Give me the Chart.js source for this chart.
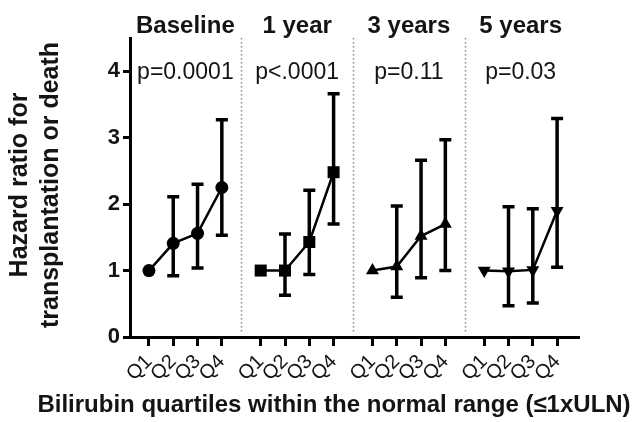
<!DOCTYPE html>
<html>
<head>
<meta charset="utf-8">
<script src="https://cdn.jsdelivr.net/npm/chart.js@4"></script>
<style>
  html, body { margin: 0; padding: 0; background: #fff; }
  #wrap { width: 641px; height: 422px; }
</style>
</head>
<body>
<div id="wrap"><canvas id="chart"></canvas></div>
<script>
// Data
const groups = ['Baseline', '1 year', '3 years', '5 years'];
const pValues = ['p=0.0001', 'p<.0001', 'p=0.11', 'p=0.03'];
const quartiles = ['Q1', 'Q2', 'Q3', 'Q4'];
const hazard = [
    [1, 1.41, 1.56, 2.25],
    [1, 1.00, 1.43, 2.48],
    [1, 1.06, 1.52, 1.70],
    [1, 0.99, 1.01, 1.90]
];
const lower = [
    [null, 0.92, 1.04, 1.53],
    [null, 0.63, 0.94, 1.70],
    [null, 0.60, 0.89, 1.00],
    [null, 0.47, 0.51, 1.05]
];
const upper = [
    [null, 2.11, 2.30, 3.27],
    [null, 1.55, 2.21, 3.66],
    [null, 1.97, 2.66, 2.97],
    [null, 1.96, 1.93, 3.29]
];
const yTicks = [0, 1, 2, 3, 4];

// layout helpers
const groupStride = 4.6;
const markers = ['circle', 'rect', 'triangle', 'triangle'];
const markerRot = [0, 0, 0, 180];
const markerSize = [6.5, 8.5, 7.5, 7.5];
const FONT = "'Liberation Sans', Arial, sans-serif";
const INK = '#141414';

const xOf = (g, q) => g * groupStride + q;

// 1. error bars with caps
const errorBars = {
    id: 'errorBars',
    beforeDatasetsDraw(chart) {
        const { ctx, scales: { x, y } } = chart;
        ctx.save();
        ctx.strokeStyle = '#000';
        ctx.lineWidth = 3.5;
        ctx.lineCap = 'butt';
        groups.forEach((g, gi) => {
            quartiles.forEach((q, qi) => {
                if (lower[gi][qi] == null) return;
                const px = x.getPixelForValue(xOf(gi, qi));
                const y1 = y.getPixelForValue(lower[gi][qi]);
                const y2 = y.getPixelForValue(upper[gi][qi]);
                ctx.beginPath();
                ctx.moveTo(px, y1); ctx.lineTo(px, y2);
                ctx.moveTo(px - 6, y1); ctx.lineTo(px + 6, y1);
                ctx.moveTo(px - 6, y2); ctx.lineTo(px + 6, y2);
                ctx.stroke();
            });
        });
        ctx.restore();
    }
};

// 2. dotted separators, panel titles, p-values, axis titles
const annotations = {
    id: 'annotations',
    beforeDatasetsDraw(chart) {
        const { ctx, chartArea, scales: { x, y } } = chart;
        ctx.save();
        ctx.strokeStyle = '#8a8a8a';
        ctx.lineWidth = 1.5;
        ctx.setLineDash([1.5, 2.5]);
        for (let gi = 0; gi < groups.length - 1; gi++) {
            const px = Math.round(x.getPixelForValue(xOf(gi, 3.8))) + 0.5;
            ctx.beginPath();
            ctx.moveTo(px, chartArea.top);
            ctx.lineTo(px, y.getPixelForValue(0) - 5);
            ctx.stroke();
        }
        ctx.restore();
    },
    afterDraw(chart) {
        const { ctx, scales: { x, y } } = chart;
        ctx.save();
        ctx.fillStyle = INK;
        ctx.textAlign = 'center';
        ctx.textBaseline = 'alphabetic';
        groups.forEach((g, gi) => {
            const cx = x.getPixelForValue(xOf(gi, 1.5));
            ctx.font = 'bold 24px ' + FONT;
            ctx.fillText(g, cx, 33);
            ctx.font = '23px ' + FONT;
            ctx.textBaseline = 'middle';
            ctx.fillText(pValues[gi], cx, y.getPixelForValue(4) + 1);
            ctx.textBaseline = 'alphabetic';
        });

        // x title
        ctx.font = 'bold 24px ' + FONT;
        ctx.fillText('Bilirubin quartiles within the normal range (\u22641xULN)', 334, 412);

        // y title, two rotated lines
        const yLines = ['Hazard ratio for', 'transplantation or death'];
        const yBase = [27, 58];
        ctx.font = 'bold 25px ' + FONT;
        yLines.forEach((t, i) => {
            ctx.save();
            ctx.translate(yBase[i], 185);
            ctx.rotate(-Math.PI / 2);
            ctx.fillText(t, 0, 0);
            ctx.restore();
        });
        ctx.restore();
    }
};

function setupChart() {
    const ctx = document.getElementById('chart');
    Chart.defaults.font.family = FONT;
    Chart.defaults.color = INK;

    new Chart(ctx, {
        type: 'scatter',
        data: {
            datasets: groups.map((g, gi) => ({
                label: g,
                data: quartiles.map((q, qi) => ({ x: xOf(gi, qi), y: hazard[gi][qi] })),
                showLine: true,
                borderColor: '#000',
                backgroundColor: '#000',
                borderWidth: 2.5,
                pointStyle: markers[gi],
                rotation: markerRot[gi],
                pointRadius: markerSize[gi],
                pointBorderWidth: 0,
                pointHoverRadius: markerSize[gi]
            }))
        },
        options: {
            responsive: true,
            maintainAspectRatio: false,
            animation: false,
            layout: { padding: { top: 38, right: 63, left: 0, bottom: 0 } },
            plugins: { legend: { display: false }, tooltip: { enabled: false } },
            scales: {
                x: {
                    type: 'linear',
                    min: -0.78,
                    max: xOf(3, 3) + 0.86,
                    afterBuildTicks: (axis) => {
                        const t = [];
                        groups.forEach((g, gi) => quartiles.forEach((q, qi) => t.push({ value: xOf(gi, qi) })));
                        axis.ticks = t;
                    },
                    afterFit: (scale) => { scale.height = 85; },
                    ticks: {
                        autoSkip: false,
                        minRotation: 45,
                        maxRotation: 45,
                        padding: 4,
                        color: INK,
                        font: { size: 20 },
                        callback: (v) => quartiles[Math.round(v - Math.floor(v / groupStride + 0.01) * groupStride)] || ''
                    },
                    grid: { display: true, drawOnChartArea: false, drawTicks: true, tickLength: 9, lineWidth: 3, color: '#000' },
                    border: { display: true, width: 3, color: '#000' }
                },
                y: {
                    min: 0,
                    max: 4.5,
                    afterBuildTicks: (axis) => { axis.ticks = yTicks.map(v => ({ value: v })); },
                    afterFit: (scale) => { scale.width = 130; },
                    ticks: { padding: 3, color: INK, font: { size: 22, weight: 'bold' } },
                    grid: { display: true, drawOnChartArea: false, drawTicks: true, tickLength: 7, lineWidth: 3, color: '#000' },
                    border: { display: true, width: 3, color: '#000' }
                }
            }
        },
        plugins: [errorBars, annotations]
    });
}

setupChart();
</script>
</body>
</html>
